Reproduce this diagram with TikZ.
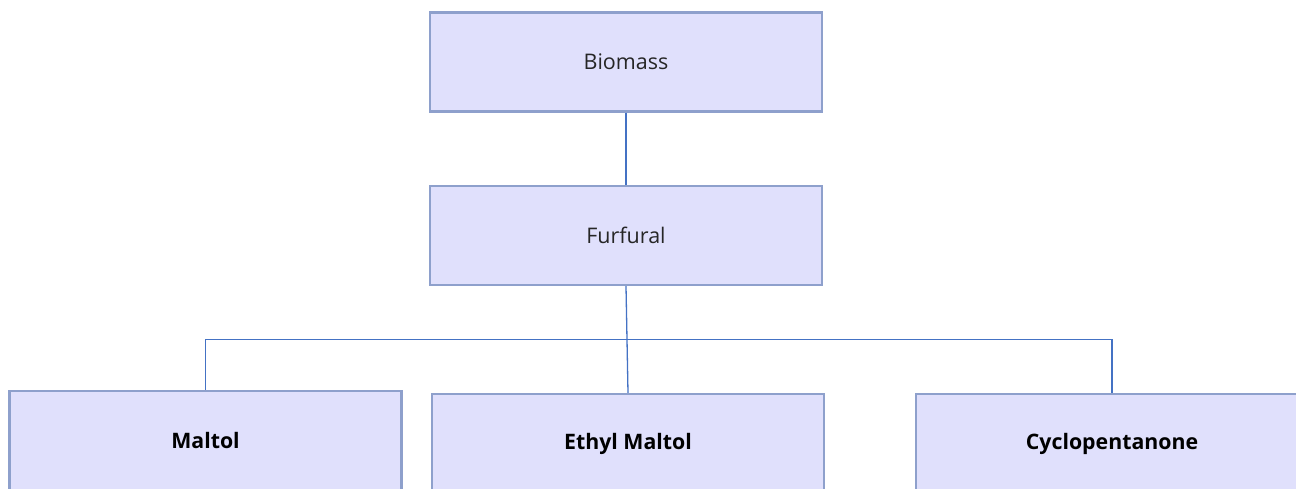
\documentclass[tikz,border=0pt]{standalone}
\usepackage{fontspec}
\setmainfont{Open Sans}
\definecolor{boxfill}{HTML}{E0E0FC}
\definecolor{boxline}{HTML}{8EA0CC}
\definecolor{connline}{HTML}{4472C4}
\begin{document}
\begin{tikzpicture}[x=1pt,y=-1pt,
  box/.style={draw=boxline, fill=boxfill, line width=2.2pt, minimum width=392pt, minimum height=99pt, inner sep=0pt, font=\fontsize{21.5}{25}\selectfont, text=black!85},
  boldbox/.style={box, font=\fontsize{21.3}{25}\selectfont\bfseries, text=black},
  conn/.style={draw=connline, line width=1.3pt}]
\useasboundingbox (0,0) rectangle (1296,489);
\clip (0,0) rectangle (1296,489);
\node[box] (bio) at (626,62) {Biomass};
\node[box] (fur) at (626,235.5) {Furfural};
\node[boldbox] (mal) at (205.5,440.5) {Maltol};
\node[boldbox] (eth) at (628,443.5) {Ethyl Maltol};
\node[boldbox] (cyc) at (1112,443.5) {Cyclopentanone};
\coordinate (j) at (627,339.5);
\draw[conn] (bio) -- (fur);
\draw[conn] (fur.south) -- (j);
\draw[conn] (j) -| (mal.north);
\draw[conn] (j) -| (cyc.north);
\draw[conn] (j) -- (eth.north);
\end{tikzpicture}
\end{document}
